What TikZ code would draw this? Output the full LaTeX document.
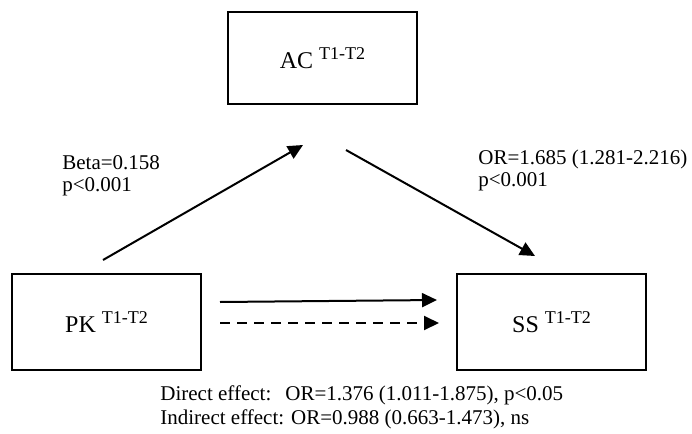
\documentclass[tikz,border=0pt]{standalone}
\usepackage{fontspec}
\setmainfont{Liberation Serif}
\usetikzlibrary{arrows.meta}
\newcommand{\tdos}{\raisebox{4.6pt}{\fontsize{9}{10}\selectfont T1-T2}}

\begin{document}
\begin{tikzpicture}[x=0.5pt,y=-0.5pt,
  box/.style={draw,line width=1.1pt,minimum width=94.5pt,inner sep=0pt,
    font=\fontsize{12}{14}\selectfont},
  arr/.style={line width=1pt,-{Triangle[length=7.5pt,width=7pt]}},
  lbl/.style={align=left,anchor=base west,inner sep=0pt,
    font=\fontsize{10.5}{11}\selectfont}]
 % Marco
 \useasboundingbox (0,0) rectangle (692,434);

 % Cajas
 \node[box,minimum height=46pt] (ac) at (322.5,58)  {AC \tdos};
 \node[box,minimum height=48pt] (pk) at (106.5,322) {PK \tdos};
 \node[box,minimum height=48pt] (ss) at (551.5,322) {SS \tdos};

 % Extremos de las flechas
 \coordinate (pkup)   at (103,260);
 \coordinate (acin)   at (303,145);
 \coordinate (acout)  at (346,150);
 \coordinate (ssin)   at (535,256);
 \coordinate (pkdir)  at (220,302);
 \coordinate (ssdir)  at (437,300);
 \coordinate (pkind)  at (220,323);
 \coordinate (ssind)  at (439,323);

 % Flechas
 \draw[arr] (pkup) -- (acin);
 \draw[arr] (acout) -- (ssin);
 \draw[arr] (pkdir) -- (ssdir);
 \draw[arr,dash pattern=on 5pt off 3.5pt] (pkind) -- (ssind);

 % Etiquetas (base = ultima linea)
 \node[lbl] (beta) at (62,191)  {Beta=0.158\\p<0.001};
 \node[lbl] (or)   at (478,186) {OR=1.685 (1.281-2.216)\\p<0.001};
 \node[lbl,font=\fontsize{10.5}{12}\selectfont] (efectos) at (160,424)
   {Direct effect:\hspace{7pt}OR=1.376 (1.011-1.875), p<0.05\\
    Indirect effect: OR=0.988 (0.663-1.473), ns};
\end{tikzpicture}
\end{document}
